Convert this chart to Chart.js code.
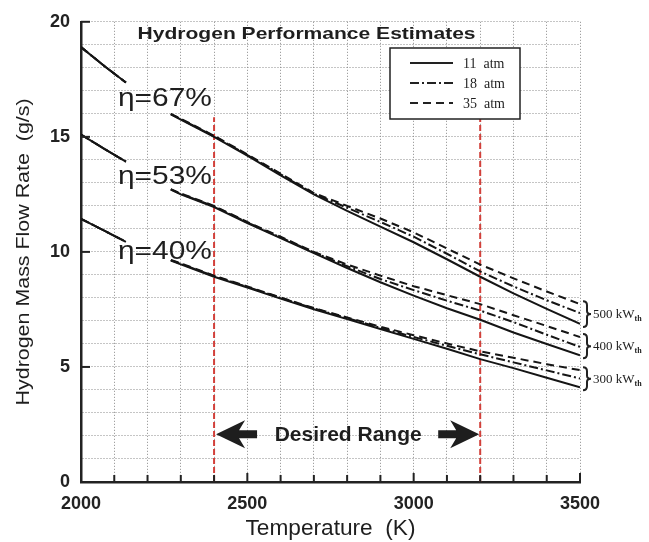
<!DOCTYPE html>
<html>
<head>
<meta charset="utf-8">
<script src="https://cdn.jsdelivr.net/npm/chart.js@4.4.0/dist/chart.umd.min.js"></script>
<style>
  html, body { margin: 0; padding: 0; background: #fff; }
  #wrap { width: 649px; height: 542px; }
</style>
</head>
<body>
<div id="wrap"><canvas id="chart" width="649" height="542"></canvas></div>
<script>
// Température (K) - le trou à 2200 laisse la place aux étiquettes eta
const temps = [2000, 2070, 2135, 2200, 2270, 2300, 2400, 2500, 2600, 2700, 2800, 2900, 3000, 3100, 3200, 3300, 3400, 3500];

// 500 kWth (eta = 67%)
const h500_11 = [18.9, 18.08, 17.36, null, 15.98, 15.75, 15.0, 14.18, 13.33, 12.5, 11.78, 11.1, 10.42, 9.68, 8.92, 8.2, 7.52, 6.87];
const h500_18 = [18.9, 18.08, 17.36, null, 15.99, 15.77, 15.03, 14.21, 13.37, 12.53, 11.92, 11.3, 10.66, 9.92, 9.15, 8.5, 7.9, 7.34];
const h500_35 = [18.9, 18.08, 17.36, null, 16.0, 15.79, 15.05, 14.24, 13.4, 12.56, 12.0, 11.45, 10.85, 10.15, 9.45, 8.85, 8.28, 7.73];

// 400 kWth (eta = 53%)
const h400_11 = [15.1, 14.48, 13.92, null, 12.71, 12.5, 11.95, 11.25, 10.6, 9.95, 9.3, 8.68, 8.1, 7.55, 7.05, 6.5, 6.0, 5.51];
const h400_18 = [15.1, 14.48, 13.92, null, 12.72, 12.52, 11.98, 11.28, 10.63, 9.98, 9.38, 8.82, 8.34, 7.88, 7.45, 6.95, 6.4, 5.87];
const h400_35 = [15.1, 14.48, 13.92, null, 12.73, 12.54, 12.0, 11.3, 10.66, 10.0, 9.45, 8.97, 8.51, 8.12, 7.73, 7.25, 6.78, 6.3];

// 300 kWth (eta = 40%)
const h300_11 = [11.44, 10.92, 10.44, null, 9.62, 9.46, 8.92, 8.45, 7.97, 7.51, 7.08, 6.65, 6.22, 5.79, 5.34, 4.95, 4.53, 4.12];
const h300_18 = [11.44, 10.92, 10.44, null, 9.64, 9.48, 8.95, 8.48, 8.0, 7.54, 7.12, 6.7, 6.3, 5.92, 5.55, 5.2, 4.85, 4.5];
const h300_35 = [11.44, 10.92, 10.44, null, 9.65, 9.5, 8.97, 8.5, 8.02, 7.56, 7.15, 6.75, 6.38, 6.02, 5.68, 5.4, 5.12, 4.86];

// Plage souhaitée
const rangeTemps = [2400, 3200];
const rangeTop = 15.85;

const pressures = ['11 atm', '18 atm', '35 atm'];
const powerLabels = ['500', '400', '300'];
const etaLabels = ['\u03B7=67%', '\u03B7=53%', '\u03B7=40%'];

const SANS = '"Liberation Sans", Arial, sans-serif';
const SERIF = '"Liberation Serif", "Times New Roman", serif';
const dashes = [[], [9, 3, 2, 3], [8, 5]];

function series(values) {
  return temps.map((t, i) => ({ x: t, y: values[i] }));
}

const groups = [
  [h500_11, h500_18, h500_35],
  [h400_11, h400_18, h400_35],
  [h300_11, h300_18, h300_35]
];

const datasets = [];
groups.forEach((group, g) => {
  group.forEach((values, p) => {
    datasets.push({
      label: powerLabels[g] + ' kW ' + pressures[p],
      data: series(values),
      borderColor: '#151515',
      borderWidth: 2,
      borderDash: dashes[p],
      spanGaps: false,
      order: p
    });
  });
});
rangeTemps.forEach(t => {
  datasets.push({
    label: 'range ' + t,
    data: [{ x: t, y: 0 }, { x: t, y: rangeTop }],
    borderColor: '#d2403a',
    borderWidth: 2,
    borderDash: [6, 3],
    order: 5
  });
});

// Texte étiré horizontalement pour coller à la largeur voulue
function fitText(ctx, text, x, y, width, align) {
  const w = ctx.measureText(text).width;
  const sx = width ? width / w : 1;
  ctx.save();
  ctx.translate(x, y);
  ctx.scale(sx, 1);
  ctx.textAlign = align || 'left';
  ctx.fillText(text, 0, 0);
  ctx.restore();
}

function line(ctx, x1, y1, x2, y2) {
  ctx.beginPath();
  ctx.moveTo(x1, y1);
  ctx.lineTo(x2, y2);
  ctx.stroke();
}

function arrow(ctx, tipX, y, dir) {
  // dir = -1 pointe vers la gauche, 1 vers la droite
  const headLen = 29, headHalf = 14, shaftLen = 12, shaftHalf = 4;
  ctx.beginPath();
  ctx.moveTo(tipX, y);
  ctx.lineTo(tipX - dir * headLen, y - headHalf);
  ctx.lineTo(tipX - dir * (headLen - 6), y - shaftHalf);
  ctx.lineTo(tipX - dir * (headLen + shaftLen), y - shaftHalf);
  ctx.lineTo(tipX - dir * (headLen + shaftLen), y + shaftHalf);
  ctx.lineTo(tipX - dir * (headLen - 6), y + shaftHalf);
  ctx.lineTo(tipX - dir * headLen, y + headHalf);
  ctx.closePath();
  ctx.fill();
}

function brace(ctx, x, top, bottom) {
  const mid = (top + bottom) / 2;
  ctx.beginPath();
  ctx.moveTo(x, top);
  ctx.quadraticCurveTo(x + 4, top, x + 4, top + 4);
  ctx.lineTo(x + 4, mid - 3);
  ctx.quadraticCurveTo(x + 4, mid, x + 8, mid);
  ctx.quadraticCurveTo(x + 4, mid, x + 4, mid + 3);
  ctx.lineTo(x + 4, bottom - 4);
  ctx.quadraticCurveTo(x + 4, bottom, x, bottom);
  ctx.stroke();
}

const annotations = {
  id: 'annotations',
  afterDatasetsDraw(chart) {
    const ctx = chart.ctx;
    const xs = chart.scales.x, ys = chart.scales.y;
    const px = v => xs.getPixelForValue(v);
    const py = v => ys.getPixelForValue(v);
    const area = chart.chartArea;
    ctx.save();

    // petites graduations vers l'intérieur
    ctx.strokeStyle = '#222';
    ctx.lineWidth = 2;
    for (let t = 2000; t <= 3500; t += 100) {
      line(ctx, px(t), area.bottom, px(t), area.bottom - (t % 500 === 0 ? 9 : 7));
    }
    for (let v = 5; v <= 20; v += 5) {
      line(ctx, area.left, py(v), area.left + 9, py(v));
    }

    ctx.fillStyle = '#1e1e1e';
    ctx.textBaseline = 'alphabetic';

    // titre
    ctx.font = 'bold 17px ' + SANS;
    fitText(ctx, 'Hydrogen Performance Estimates', px(2678), py(19.25), 338, 'center');

    // étiquettes eta
    ctx.font = '26px ' + SANS;
    const etaY = [16.35, 12.95, 9.69];
    etaLabels.forEach((txt, i) => fitText(ctx, txt, px(2111), py(etaY[i]), 94, 'left'));

    // plage souhaitée
    ctx.font = 'bold 21px ' + SANS;
    fitText(ctx, 'Desired Range', (px(rangeTemps[0]) + px(rangeTemps[1])) / 2 + 1, py(1.8), 147, 'center');
    arrow(ctx, px(rangeTemps[0]) + 2, py(2.08), -1);
    arrow(ctx, px(rangeTemps[1]) - 1, py(2.08), 1);

    // accolades et puissances
    ctx.lineWidth = 2;
    groups.forEach((group, g) => {
      const last = temps.length - 1;
      const yTop = py(group[2][last]) - 3;
      const yBot = py(group[0][last]) + 3;
      const x0 = px(3500) + 3;
      brace(ctx, x0, yTop, yBot);
      const mid = (yTop + yBot) / 2 + 4;
      ctx.font = '13px ' + SERIF;
      ctx.textAlign = 'left';
      const label = powerLabels[g] + ' kW';
      ctx.fillText(label, x0 + 10, mid);
      const w = ctx.measureText(label).width;
      ctx.font = 'bold 8px ' + SERIF;
      ctx.fillText('th', x0 + 10 + w, mid + 3);
    });

    // légende
    const bx = 390, by = 48, bw = 130, bh = 71;
    ctx.fillStyle = '#fff';
    ctx.fillRect(bx, by, bw, bh);
    ctx.strokeStyle = '#222';
    ctx.lineWidth = 1.5;
    ctx.strokeRect(bx, by, bw, bh);
    ctx.fillStyle = '#1e1e1e';
    ctx.font = '14px ' + SERIF;
    pressures.forEach((p, i) => {
      const yy = by + 15 + i * 20;
      ctx.lineWidth = 2;
      ctx.setLineDash(dashes[i]);
      line(ctx, bx + 20, yy, bx + 63, yy);
      ctx.setLineDash([]);
      ctx.textAlign = 'left';
      ctx.fillText(p.replace(' ', '  '), bx + 73, yy + 5);
    });

    // titres des axes
    ctx.font = '22px ' + SANS;
    fitText(ctx, 'Temperature  (K)', (area.left + area.right) / 2, 535, 170, 'center');
    ctx.save();
    ctx.translate(29, (area.top + area.bottom) / 2);
    ctx.rotate(-Math.PI / 2);
    ctx.font = '19px ' + SANS;
    fitText(ctx, 'Hydrogen Mass Flow Rate  (g/s)', 0, 0, 307, 'center');
    ctx.restore();

    ctx.restore();
  }
};

const tickFont = { family: SANS, size: 18, weight: 'bold' };

new Chart(document.getElementById('chart'), {
  type: 'line',
  data: { datasets: datasets },
  options: {
    responsive: false,
    animation: false,
    layout: { padding: { top: 16, right: 69, left: 0, bottom: 0 } },
    plugins: { legend: { display: false }, tooltip: { enabled: false } },
    elements: { point: { radius: 0 }, line: { tension: 0 } },
    scales: {
      x: {
        type: 'linear',
        min: 2000,
        max: 3500,
        ticks: {
          stepSize: 100,
          autoSkip: false,
          maxRotation: 0,
          padding: 11,
          color: '#222',
          font: tickFont,
          callback: v => (v % 500 === 0 ? v : '')
        },
        grid: { color: '#8a8a8a', lineWidth: 1, drawTicks: false },
        border: { color: '#222', width: 2.5, dash: [1, 2] },
        afterFit: s => { s.height = 60; }
      },
      y: {
        min: 0,
        max: 20,
        ticks: {
          stepSize: 1,
          autoSkip: false,
          padding: 11,
          color: '#222',
          font: tickFont,
          callback: v => (v % 5 === 0 ? v : '')
        },
        grid: { color: '#8a8a8a', lineWidth: 1, drawTicks: false },
        border: { color: '#222', width: 2.5, dash: [1, 2] },
        afterFit: s => { s.width = 81; }
      }
    }
  },
  plugins: [annotations]
});
</script>
</body>
</html>
